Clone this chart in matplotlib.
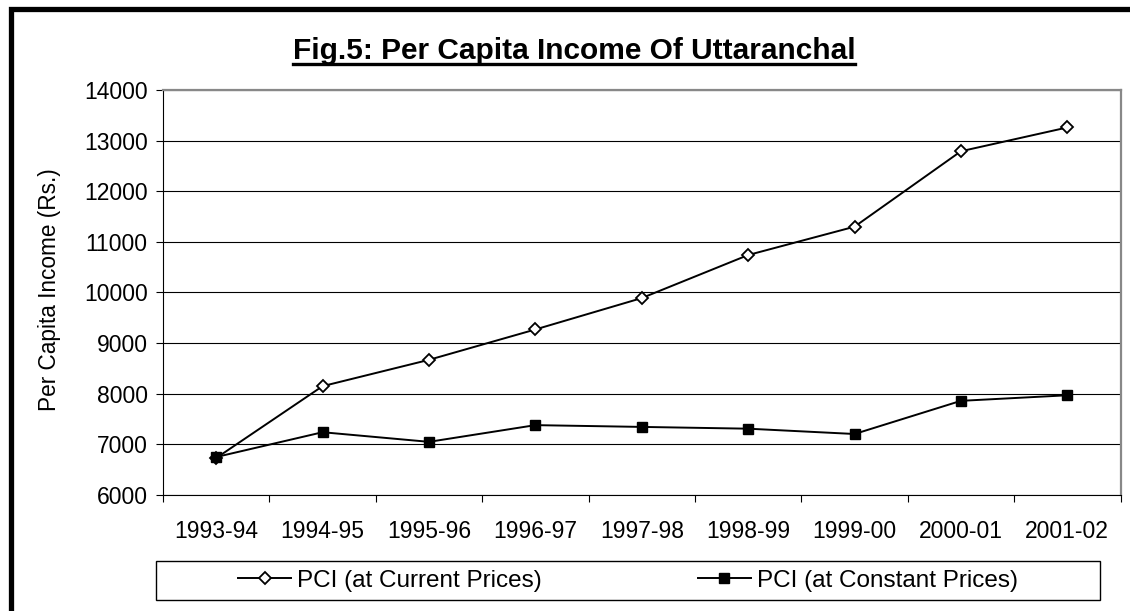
from matplotlib import pyplot as plt
from matplotlib.patches import Rectangle
from matplotlib.lines import Line2D
import numpy as np

# data
years = ['1993-94', '1994-95', '1995-96', '1996-97', '1997-98',
         '1998-99', '1999-00', '2000-01', '2001-02']
pci_current = [6730, 8150, 8670, 9270, 9890, 10740, 11300, 12790, 13260]
pci_constant = [6750, 7240, 7050, 7380, 7345, 7310, 7205, 7860, 7970]
yticks = [6000, 7000, 8000, 9000, 10000, 11000, 12000, 13000, 14000]

plt.rcParams['font.family'] = ['Liberation Sans', 'DejaVu Sans']

W, H = 1130, 611
fig = plt.figure(figsize=(W / 100, H / 100), dpi=100)
ax = fig.add_axes([163 / W, 1 - 495 / H, (1120.5 - 163) / W, (495 - 90) / H])

x = np.arange(len(years))
ax.plot(x, pci_current, color='black', lw=1.4, marker='D', ms=6.0,
        mfc='white', mec='black', mew=1.3, label='PCI (at Current Prices)', zorder=4)
ax.plot(x, pci_constant, color='black', lw=1.4, marker='s', ms=7.8,
        mfc='black', mec='black', label='PCI (at Constant Prices)', zorder=4)

ax.set_xlim(-0.5, len(years) - 0.5)
ax.set_ylim(6000, 14000)
ax.set_yticks(yticks)
ax.set_yticklabels([str(v) for v in yticks])
ax.set_xticks(x)
ax.set_xticklabels(years)
ax.set_xticks(np.arange(-0.5, len(years)), minor=True)
ax.tick_params(axis='x', which='major', length=0, pad=18, labelsize=16.5)
ax.tick_params(axis='x', which='minor', length=5, width=0.8, direction='out')
ax.tick_params(axis='y', length=5, width=0.8, direction='out', pad=6, labelsize=16.5)

ax.grid(axis='y', color='black', lw=0.8)
ax.set_axisbelow(True)
for s in ['top', 'right']:
    ax.spines[s].set_color('#888888')
    ax.spines[s].set_linewidth(1.6)
for s in ['left', 'bottom']:
    ax.spines[s].set_color('black')
    ax.spines[s].set_linewidth(0.8)

fig.text(50 / W, 1 - 290 / H, 'Per Capita Income (Rs.)', rotation=90,
         ha='center', va='center', fontsize=16.3)

title = fig.text(574 / W, 1 - 51 / H, 'Fig.5: Per Capita Income Of Uttaranchal',
                 ha='center', va='center', fontsize=21.5, fontweight='bold')

# legend box
fig.patches.append(Rectangle((156 / W, 1 - 600 / H), (1100 - 156) / W, 39 / H,
                             transform=fig.transFigure, fill=False,
                             edgecolor='black', lw=1.0))
fig.legend(loc='center', bbox_to_anchor=(628 / W, 1 - 580.5 / H), ncol=2,
           frameon=False, fontsize=17.5, handlelength=2.2, handletextpad=0.25,
           columnspacing=6.4)

# thick outer frame (only left and top show)
fig.patches.append(Rectangle((10.5 / W, -0.2), 1.5, 1.2 - 8.5 / H,
                             transform=fig.transFigure, fill=False,
                             edgecolor='black', lw=3.8, clip_on=False))

# underline the title
fig.canvas.draw()
bb = title.get_window_extent().transformed(fig.transFigure.inverted())
fig.add_artist(Line2D([bb.x0, bb.x1], [bb.y0 + 1.0 / H, bb.y0 + 1.0 / H],
                      transform=fig.transFigure, color='black', lw=2.4))

fig.savefig('out.png', dpi=100)
